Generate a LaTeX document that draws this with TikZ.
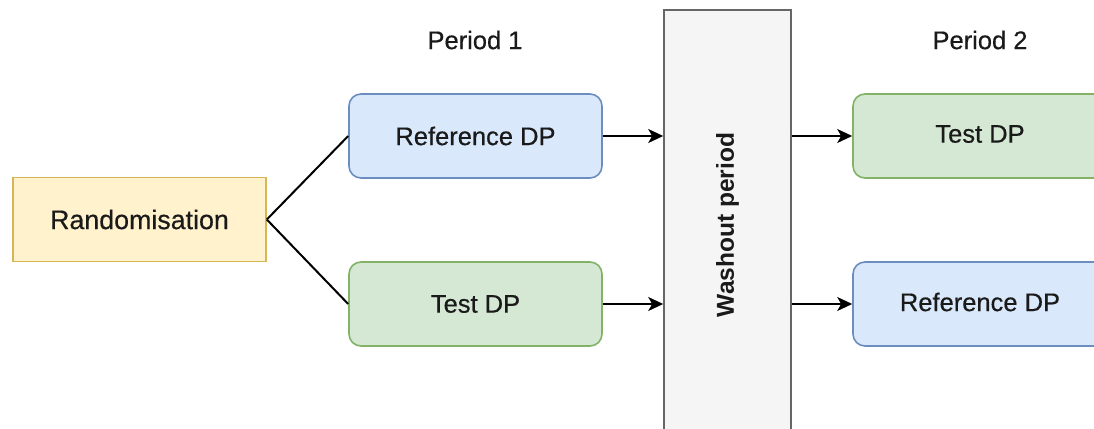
\documentclass[tikz,border=0pt]{standalone}
\usepackage{fontspec}
\setmainfont{Liberation Sans}
\newfontfamily\labelfont[FakeBold=0.4]{Liberation Sans}
\usetikzlibrary{arrows.meta}

\definecolor{yelfill}{HTML}{FFF2CC}
\definecolor{yelline}{HTML}{D6B656}
\definecolor{bluefill}{HTML}{DAE8FC}
\definecolor{blueline}{HTML}{6C8EBF}
\definecolor{greenfill}{HTML}{D5E8D4}
\definecolor{greenline}{HTML}{82B366}
\definecolor{greyfill}{HTML}{F5F5F5}
\definecolor{greyline}{HTML}{666666}
\definecolor{ink}{HTML}{1A1A1A}

\tikzset{
  labeltext/.style={font=\labelfont\fontsize{25.5}{30}\selectfont, text=ink},
  box/.style={draw, line width=1.6pt, minimum width=253pt, minimum height=84pt,
    inner sep=0pt, labeltext},
  refbox/.style={box, rounded corners=12pt, fill=bluefill, draw=blueline},
  testbox/.style={box, rounded corners=12pt, fill=greenfill, draw=greenline},
  randbox/.style={box, fill=yelfill, draw=yelline, font=\labelfont\fontsize{26.8}{30}\selectfont},
  washbox/.style={draw=greyline, fill=greyfill, line width=1.6pt, minimum width=127pt,
    minimum height=430pt, inner sep=0pt, text=ink},
  periodlabel/.style={labeltext, inner sep=0pt},
  link/.style={line width=2pt, draw=black},
  flow/.style={link, -{Stealth[length=15pt, width=14pt, inset=4pt]}},
}

\begin{document}
\begin{tikzpicture}[x=1pt, y=-1pt]
  \useasboundingbox (0,0) rectangle (1094,428);
  \clip (0,0) rectangle (1094,428);
  \fill[white] (0,0) rectangle (1094,428);

  % period headings
  \node[periodlabel] (p1) at (475,40) {Period 1};
  \node[periodlabel] (p2) at (980,40) {Period 2};

  % start and first period
  \node[randbox] (rand) at (139.5,219.5) {Randomisation};
  \node[refbox]  (ref1) at (475.5,136) {Reference DP};
  \node[testbox] (test1) at (475.5,304) {Test DP};

  % washout column, running off the bottom
  \node[washbox] (wash) at (727.5,225) {};
  \node[rotate=90, font=\bfseries\fontsize{24.5}{30}\selectfont, text=ink] (washtxt) at (wash.center) {Washout period};

  % second period, running off the right edge
  \node[testbox] (test2) at (979.5,136) {};
  \node[labeltext] (test2txt) at (980,134) {Test DP};
  \node[refbox]  (ref2) at (979.5,304) {};
  \node[labeltext] (ref2txt) at (980,302) {Reference DP};

  % connectors
  \draw[link] (rand.east) -- (ref1.west);
  \draw[link] (rand.east) -- (test1.west);
  \draw[flow] (ref1.east) -- (ref1.east -| wash.west);
  \draw[flow] (test1.east) -- (test1.east -| wash.west);
  \draw[flow] (ref1.east -| wash.east) -- (test2.west);
  \draw[flow] (test1.east -| wash.east) -- (ref2.west);
\end{tikzpicture}
\end{document}
